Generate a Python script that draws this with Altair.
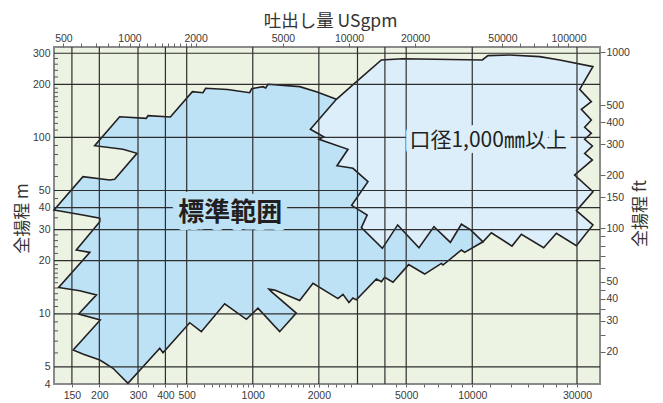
import altair as alt
import pandas as pd

# ---- standard range outline (flow m3/h, head m) ----
std_q = [124.3, 168.4, 222.9, 234.9, 296.9, 256.2, 190.4, 247.5, 327.5, 333.1, 421.3,
         530.7, 593.1, 610.1, 768.6, 968.0, 988.5, 1113, 1145, 1173, 1636, 1949, 2404,
         7889, 11186, 9234, 8919, 7355, 7233, 6070, 5131, 4352, 3990, 3854, 3658,
         2965, 2861, 2743, 2576, 2444, 1881, 1636, 1258, 1185, 1219, 1579, 1326,
         1056, 935, 745, 583, 516, 390, 377, 270, 231, 201, 168, 152,
         202, 161, 194, 163, 130.5, 181, 157, 201, 201, 168]
std_h = [38.8, 59.9, 57.4, 57.9, 81.2, 85.6, 89.7, 131.0, 128.3, 132.8, 130.5,
         181.6, 179.2, 189.8, 186.9, 179.2, 188.8, 193.9, 190.6, 200.0, 193.9, 181.6, 164.4,
         84.8, 25.6, 22.3, 23.0, 18.9, 19.3, 16.8, 19.0, 15.1, 16.1, 15.2, 15.75,
         12.0, 12.3, 11.6, 12.9, 12.2, 14.9, 11.9, 13.65, 13.8, 13.3, 10.1, 7.92,
         10.75, 9.31, 11.4, 7.92, 8.90, 6.02, 6.38, 4.04, 4.91, 5.47, 5.92, 6.23,
         9.22, 9.97, 12.8, 13.5, 14.1, 22.3, 23.0, 33.3, 34.8, 36.3]

# ---- bore 1,000 mm and above outline ----
big_q = [2404, 2934, 3854, 4819, 11117, 11790, 14804, 20280, 25020, 35460,
         30860, 34870, 31410, 34870, 32520, 34870, 32520, 35250, 32520, 35250,
         29280, 35460, 29810, 35460, 29810, 24170, 21150, 16740, 15170, 12220,
         11186, 9833, 8919, 7947, 6692, 5717, 4573, 3895, 3124, 3320, 2822,
         3348, 2861, 2419, 2715, 2003, 2103, 1830]
big_h = [164.4, 204.2, 274.7, 279.4, 274.7, 290.8, 293.4, 287.0, 274.7, 251.7,
         187.4, 159.4, 144.3, 125.5, 114.1, 105.5, 97.6, 89.4, 81.2, 74.5,
         61.2, 49.2, 38.4, 31.9, 24.3, 28.6, 23.7, 28.2, 24.2, 28.8,
         25.6, 29.9, 32.2, 25.4, 31.2, 23.7, 31.9, 23.5, 30.8, 36.3, 41.2,
         56.1, 66.8, 69.1, 85.6, 97.6, 100.9, 111.2]

grid_q = [150, 200, 300, 400, 500, 1000, 2000, 3000, 4000, 5000, 10000, 30000]
grid_h = [5, 10, 20, 30, 40, 50, 100, 200, 300]

bottom_labels = [150, 200, 300, 400, 500, 1000, 2000, 5000, 10000, 30000]
bottom_minor = [350, 450, 600, 650, 700, 750, 800, 850, 900, 950,
                1100, 1200, 1300, 1400, 1500, 1600, 1700, 1800, 1900,
                2200, 2400, 2600, 2800, 3500, 4500, 6000, 7000, 8000, 9000,
                12000, 15000, 18000, 21000, 24000, 27000]
left_labels = [4, 5, 10, 20, 30, 40, 50, 100, 200, 300]
left_minor = [6, 7, 8, 9, 11, 12, 13, 14, 15, 16, 17, 18, 19, 22, 24, 26, 28, 35, 45,
              60, 70, 80, 90, 110, 120, 130, 140, 150, 160, 170, 180, 190, 220, 240, 260, 280]
top_labels = [500, 1000, 2000, 5000, 10000, 20000, 50000, 100000]
top_minor = [600, 700, 800, 900, 1100, 1200, 1300, 1400, 1500, 1600, 1700, 1800, 1900,
             60000, 70000, 80000, 90000]
right_labels = [20, 30, 40, 50, 100, 150, 200, 300, 400, 500, 1000]
right_minor = [25, 35, 45, 60, 70, 80, 90]

text_labels = ["標準範囲", "口径1,000㎜以上"]
text_q = [789, 11815]
text_h = [37.3, 96.0]

STD = "#bde2f6"
BIG = "#dceefa"
BG = "#ecf3e2"
INK = "#231f20"
GRID = "#2e2e2e"
CJK = "Noto Sans CJK JP"
NUM = "Liberation Sans"


def only(vals):
    arr = ",".join(str(v) for v in vals)
    return f"indexof([{arr}], datum.value) >= 0 ? format(datum.value, 'd') : ''"


xs = alt.Scale(type="log", domain=[124.3, 38190], nice=False)
ys = alt.Scale(type="log", domain=[4, 325.4], nice=False)
x_axis = alt.Axis(values=bottom_labels + bottom_minor, labelExpr=only(bottom_labels),
                  tickSize=3, tickColor="#666", domain=False, grid=False, title=None,
                  labelOverlap=False, labelPadding=3, labelFlush=False)
y_axis = alt.Axis(values=left_labels, ticks=False, domain=False, grid=False,
                  title="全揚程 m", labelPadding=4, labelOverlap=False, labelFlush=False,
                  titleFontSize=17, titleX=-32, titleY=171, titleAngle=270,
                  titleAlign="center", titleBaseline="middle")


def X(f):
    return alt.X(f, type="quantitative", scale=xs, axis=x_axis)


def Y(f):
    return alt.Y(f, type="quantitative", scale=ys, axis=y_axis)


std_df = pd.DataFrame({"q": std_q, "h": std_h, "i": list(range(len(std_q)))})
big_df = pd.DataFrame({"q": big_q, "h": big_h, "i": list(range(len(big_q)))})
txt_df = pd.DataFrame({"q": text_q, "h": text_h, "t": text_labels})

std_poly = alt.Chart(std_df).mark_line(
    fill=STD, stroke=INK, strokeWidth=1.6, interpolate="linear-closed", strokeJoin="miter"
).encode(x=X("q"), y=Y("h"), order=alt.Order("i:Q"))

big_poly = alt.Chart(big_df).mark_line(
    fill=BIG, stroke=INK, strokeWidth=1.6, interpolate="linear-closed", strokeJoin="miter"
).encode(x=X("q"), y=Y("h"), order=alt.Order("i:Q"))

vgrid = alt.Chart(pd.DataFrame({"q": grid_q})).mark_rule(
    color=GRID, strokeWidth=1.2).encode(x=X("q"))
hgrid = alt.Chart(pd.DataFrame({"h": grid_h})).mark_rule(
    color=GRID, strokeWidth=1.2).encode(y=Y("h"))
lticks = alt.Chart(pd.DataFrame({"h": left_minor})).mark_rule(
    color="#555", strokeWidth=1).encode(y=Y("h"), x=alt.value(0), x2=alt.value(4))

t1 = txt_df.iloc[[0]]
t2 = txt_df.iloc[[1]]
halo1 = alt.Chart(t1).mark_text(font=CJK, fontSize=26, fontWeight="bold", fill=STD,
                                stroke=STD, strokeWidth=13, strokeJoin="round",
                                align="center", baseline="middle").encode(
    x=X("q"), y=Y("h"), text="t:N")
text1 = alt.Chart(t1).mark_text(font=CJK, fontSize=26, fontWeight="bold", color=INK,
                                align="center", baseline="middle").encode(
    x=X("q"), y=Y("h"), text="t:N")
halo2 = alt.Chart(t2).mark_text(font=CJK, fontSize=21, fill=BIG, stroke=BIG,
                                strokeWidth=12, strokeJoin="round",
                                align="center", baseline="middle").encode(
    x=X("q"), y=Y("h"), text="t:N")
text2 = alt.Chart(t2).mark_text(font=CJK, fontSize=21, color=INK,
                                align="center", baseline="middle").encode(
    x=X("q"), y=Y("h"), text="t:N")

inner = alt.layer(std_poly, big_poly, vgrid, hgrid, lticks, halo1, text1, halo2, text2)

ax_df = pd.DataFrame({"g": [1000], "f": [100]})
axes = alt.Chart(ax_df).mark_point(opacity=0).encode(
    x=alt.X("g:Q", scale=alt.Scale(type="log", domain=[452.9, 139200], nice=False),
            axis=alt.Axis(orient="top", values=top_labels + top_minor,
                          labelExpr=only(top_labels), tickSize=4, tickColor="#666",
                          domain=False, grid=False, labelOverlap=False, labelFlush=False,
                          labelPadding=0, title="吐出し量 USgpm", titleFontSize=17.5,
                          titleX=276, titleY=-26, titleAlign="center",
                          titleBaseline="middle")),
    y=alt.Y("f:Q", scale=alt.Scale(type="log", domain=[13.12, 1067.6], nice=False),
            axis=alt.Axis(orient="right", values=right_labels + right_minor,
                          labelExpr=only(right_labels), tickSize=5, tickColor="#666",
                          domain=False, grid=False, labelOverlap=False, labelFlush=False,
                          labelPadding=1, title="全揚程 ft", titleFontSize=17,
                          titleAngle=270, titleX=40, titleY=166, titleAlign="center",
                          titleBaseline="middle")),
)

chart = alt.layer(inner, axes).resolve_scale(x="independent", y="independent").properties(
    width=546, height=337,
    padding={"left": 46, "top": 39, "right": 55, "bottom": 17},
    autosize=alt.AutoSizeParams(type="none"),
).configure_view(
    fill=BG, stroke="#8a8a8a", strokeWidth=2
).configure_axis(
    labelFont=NUM, labelFontSize=10.5, labelColor="#3a3a3a",
    titleFont=CJK, titleFontWeight="normal", titleColor="#333333"
)

chart.save("out.html", embed_options={"renderer": "svg", "actions": False})
